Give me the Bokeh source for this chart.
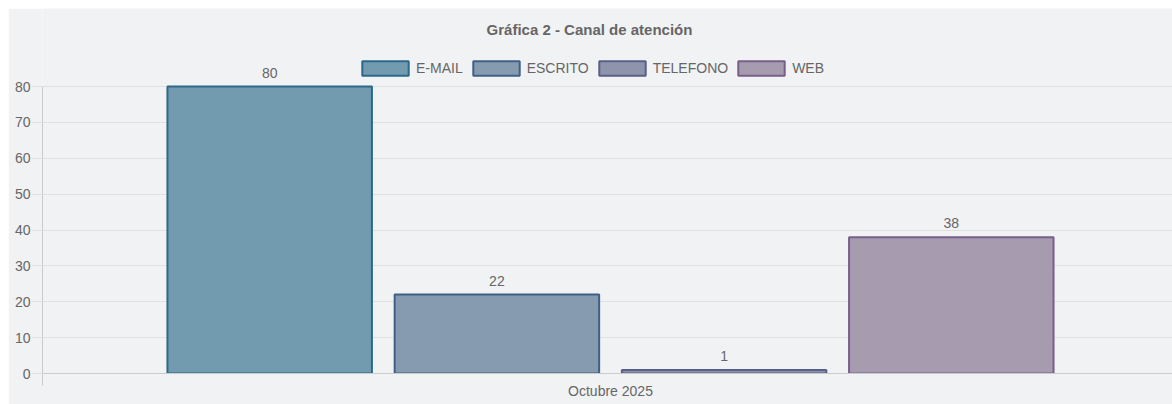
from bokeh.plotting import figure
from bokeh.layouts import column, row
from bokeh.models import (ColumnDataSource, Range1d, FixedTicker, Spacer,
                          Legend, LegendItem, LabelSet, Label)
from bokeh.core.properties import value
from bokeh.embed import file_html
from bokeh.resources import INLINE

# ---- data ----
title_text = "Gráfica 2 - Canal de atención"
period = "Octubre 2025"
channels = ["E-MAIL", "ESCRITO", "TELEFONO", "WEB"]
counts = [80, 22, 1, 38]
fill_colors = ["#729bb0", "#879bb0", "#8f94ad", "#a69baf"]
line_colors = ["#2c688a", "#3e6086", "#5a5f87", "#7a5e8a"]
y_ticks = [0, 10, 20, 30, 40, 50, 60, 70, 80]

# ---- layout of the single category (Chart.js style grouping) ----
n = len(channels)
cat_pct = 0.8
bar_pct = 0.9
slot = cat_pct / n
xs = [0.5 + (i - (n - 1) / 2) * slot for i in range(n)]

src = ColumnDataSource(dict(x=xs, top=counts, lbl=[str(c) for c in counts]))

FONT = "Liberation Sans"
TXT = "#666666"
GRID = "#dfe0e2"
AXIS = "#c9cacc"
BG = "#f1f2f4"

W, H = 1164, 396
# frame spans the figure from the top down to 365px; the 0..80 scale spans 287px
frame_bottom, scale_px = 365, 287
y_end = y_ticks[-1] * frame_bottom / scale_px

p = figure(width=W, height=H, output_backend="svg", toolbar_location=None,
           x_range=Range1d(0, 1130 / 1136), y_range=Range1d(0, y_end),
           min_border_left=34, min_border_right=0, min_border_top=0,
           min_border_bottom=H - frame_bottom)
p.title = None
p.background_fill_color = BG
p.border_fill_color = BG
p.outline_line_color = None

renderers = []
for i in range(n):
    r = p.vbar(x=[xs[i]], top=[counts[i]], bottom=0, width=slot * bar_pct,
               fill_color=fill_colors[i], line_color=line_colors[i], line_width=2)
    renderers.append(r)

labels = LabelSet(x="x", y="top", text="lbl", source=src, y_offset=9,
                  text_align="center", text_baseline="bottom",
                  text_font_size="14px", text_color=TXT, text_font=value(FONT))
p.add_layout(labels)

# y axis
p.yaxis.ticker = FixedTicker(ticks=y_ticks)
p.yaxis.bounds = (y_ticks[0], y_ticks[-1])
p.yaxis.axis_line_color = AXIS
p.yaxis.major_tick_out = 10
p.yaxis.major_tick_in = 0
p.yaxis.major_tick_line_color = GRID
p.yaxis.minor_tick_line_color = None
p.yaxis.major_label_standoff = 2
p.yaxis.major_label_text_font = FONT
p.yaxis.major_label_text_font_size = "14px"
p.yaxis.major_label_text_color = TXT

# x axis
p.xaxis.ticker = FixedTicker(ticks=[0.5], minor_ticks=[0.0, 1.0])
p.xaxis.major_label_overrides = {0.5: period}
p.xaxis.axis_line_color = AXIS
p.xaxis.major_tick_out = 0
p.xaxis.major_tick_in = 0
p.xaxis.minor_tick_out = 12
p.xaxis.minor_tick_in = 0
p.xaxis.minor_tick_line_color = AXIS
p.xaxis.major_label_standoff = -3
p.xaxis.major_label_text_font = FONT
p.xaxis.major_label_text_font_size = "14px"
p.xaxis.major_label_text_color = TXT

p.xgrid.grid_line_color = None
p.ygrid.grid_line_color = GRID

# legend
legend = Legend(items=[LegendItem(label=channels[i], renderers=[renderers[i]]) for i in range(n)],
                orientation="horizontal", location=(314, 296), margin=0, padding=0,
                glyph_width=58, glyph_height=18, label_height=18,
                label_standoff=2, spacing=4,
                label_text_font=FONT, label_text_font_size="14px", label_text_color=TXT,
                border_line_color=None, background_fill_alpha=0)
p.add_layout(legend)

# title (as a label at the top of the panel)
p.add_layout(Label(x=547, y=344.5, x_units="screen", y_units="screen", text=title_text,
                   text_align="center", text_baseline="middle",
                   text_font=FONT, text_font_size="15px", text_font_style="bold",
                   text_color=TXT))

page = column(Spacer(height=8, width=W + 8),
              row(Spacer(width=8, height=H), p, spacing=0), spacing=0)

open("out.html", "w").write(file_html(page, INLINE))
